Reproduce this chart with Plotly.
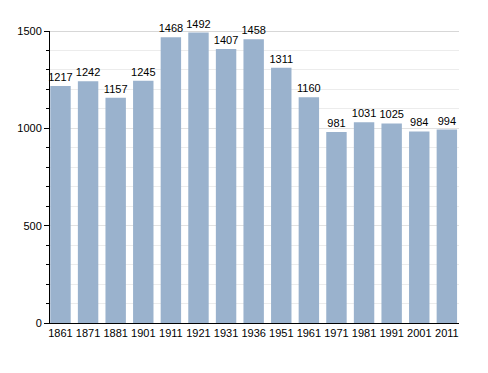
import plotly.graph_objects as go

years = ["1861", "1871", "1881", "1901", "1911", "1921", "1931", "1936",
         "1951", "1961", "1971", "1981", "1991", "2001", "2011"]
population = [1217, 1242, 1157, 1245, 1468, 1492, 1407, 1458,
              1311, 1160, 981, 1031, 1025, 984, 994]
ytick_vals = [0, 500, 1000, 1500]

fig = go.Figure(go.Bar(
    x=years, y=population,
    text=[str(v) for v in population],
    textposition="outside",
    cliponaxis=False,
    constraintext="none",
    textfont=dict(family="Liberation Sans, Arial", size=11, color="black"),
    marker=dict(color="#9ab2cd", line=dict(width=0)),
))

fig.update_layout(
    width=488, height=373,
    margin=dict(l=42, r=37, t=23, b=58, autoexpand=False),
    plot_bgcolor="white", paper_bgcolor="white",
    bargap=0.26,
    showlegend=False,
    uniformtext=dict(mode="show", minsize=11),
    font=dict(family="Liberation Sans, Arial", size=11, color="black"),
)
fig.update_xaxes(
    type="category",
    range=[-0.38, 14.44],
    automargin=False,
    showline=True, linecolor="black", linewidth=1,
    ticks="", showgrid=False,
    tickfont=dict(size=11),
)
fig.update_yaxes(
    range=[0, 1500],
    automargin=False,
    tickvals=ytick_vals,
    showline=True, linecolor="black", linewidth=1,
    ticks="outside", ticklen=5, tickcolor="black",
    showgrid=True, gridcolor="#e2e2e2", gridwidth=1,
    minor=dict(dtick=100, showgrid=True, gridcolor="#ececec",
               ticks="outside", ticklen=3, tickcolor="black"),
    zeroline=False,
    tickfont=dict(size=11),
)
fig.add_hline(y=1500, line=dict(color="#b0b0b0", width=1), layer="below")

fig.write_html("out.html")
